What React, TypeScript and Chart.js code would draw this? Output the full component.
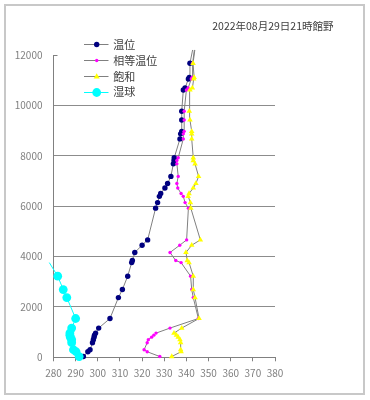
import React, { useEffect, useRef } from "react";
import { Chart, registerables } from "chart.js";

Chart.register(...registerables);

// heights (m) shared by all soundings
const heights = [
  30, 220, 300, 580, 700, 800, 880, 960, 1160, 1540,
  2370, 2690, 3220, 3760, 3840, 4160, 4450, 4660,
  5920, 6140, 6390, 6500, 6720, 6900,
  7180, 7680, 7810, 7920,
  8670, 8870, 8970, 9420, 9770,
  10610, 10690, 11050, 11110, 11670,
  12200,
];

// 温位 (K)
const potentialTemp = [
  293.5, 295.5, 296.5, 297.6, 298.0, 298.3, 298.5, 299.0, 300.4, 305.5,
  309.3, 311.1, 313.5, 315.3, 315.6, 316.7, 320.0, 322.5,
  326.1, 327.0, 327.8, 328.4, 330.3, 331.5,
  333.0, 334.1, 334.4, 334.5,
  337.1, 337.4, 337.9, 337.9, 337.9,
  338.6, 339.4, 340.9, 341.3, 341.6,
  342.8,
];

// 相等温位 (K)
const equivPotentialTemp = [
  328.0, 322.3, 320.9, 322.3, 322.8, 324.3, 325.3, 326.3, 332.6, 345.4,
  343.1, 342.4, 341.9, 337.6, 335.2, 332.6, 337.0, 340.1,
  340.9, 339.4, 338.6, 337.6, 336.1, 335.7,
  336.3, 335.7, 335.7, 336.3,
  338.6, 338.6, 339.0, 339.0, 339.0,
  340.0, 340.8, 342.2, 342.6, 342.8,
  343.6,
];

// 飽和 (K)
const saturatedTemp = [
  333.4, 337.6, 337.4, 337.4, 337.1, 336.3, 335.5, 334.4, 337.9, 345.7,
  343.9, 343.1, 343.1, 341.2, 340.4, 339.8, 342.4, 346.3,
  342.0, 341.8, 340.8, 341.2, 343.1, 344.3,
  345.5, 343.9, 343.1, 343.1,
  342.4, 342.4, 342.4, 341.6, 341.3,
  341.6, 342.7, 343.3, 343.5, 343.0,
  343.8,
];

// 湿球 (K) — lowest levels only
const wetBulb = [
  291.6, 290.2, 289.0, 288.2, 288.2, 287.6, 287.4, 287.4, 288.2, 290.0,
  286.0, 284.4, 281.9, 278.1,
];

const seriesNames = ["温位", "相等温位", "飽和", "湿球"];
const titleText = "2022年08月29日21時館野";
const xTicksMin = 280;
const xTicksMax = 380;
const yTicksMax = 12000;

const FONT = "'Noto Sans CJK JP', 'Noto Sans', sans-serif";

const toPoints = (xs: number[]) => xs.map((x, i) => ({ x, y: heights[i] }));

const inRange = (ctx: any) => {
  const r = ctx.raw;
  return r && r.y <= yTicksMax && r.x >= xTicksMin;
};

const styles = [
  { color: "#000080", line: "#808080", shape: "circle", r: 2.7 },
  { color: "#ff00ff", line: "#808080", shape: "circle", r: 1.7 },
  { color: "#ffff00", line: "#808080", shape: "triangle", r: 3.2 },
  { color: "#00ffff", line: "#00ffff", shape: "circle", r: 4.4 },
];

function drawMarker(c: CanvasRenderingContext2D, shape: string, x: number, y: number, r: number, color: string) {
  c.fillStyle = color;
  c.beginPath();
  if (shape === "triangle") {
    c.moveTo(x, y - r);
    c.lineTo(x + r * 0.95, y + r * 0.6);
    c.lineTo(x - r * 0.95, y + r * 0.6);
    c.closePath();
  } else {
    c.arc(x, y, r, 0, Math.PI * 2);
  }
  c.fill();
}

const decorPlugin = {
  id: "decor",
  afterDraw(chart: any) {
    const c: CanvasRenderingContext2D = chart.ctx;
    const area = chart.chartArea;
    c.save();
    // inward tick at the top of the y axis
    c.strokeStyle = "#808080";
    c.lineWidth = 1;
    c.beginPath();
    c.moveTo(area.left, Math.round(area.top) + 0.5);
    c.lineTo(area.left + 4, Math.round(area.top) + 0.5);
    c.stroke();

    // title
    c.fillStyle = "#404040";
    c.font = `10.5px ${FONT}`;
    c.textAlign = "right";
    c.textBaseline = "middle";
    c.fillText(titleText, 333.5, 26.5);

    // legend
    const x0 = 84;
    const x1 = 108.5;
    const xm = 96.7;
    const y0 = 44.3;
    const dy = 15.8;
    c.font = `11px ${FONT}`;
    c.textAlign = "left";
    seriesNames.forEach((name, i) => {
      const y = y0 + i * dy;
      const s = styles[i];
      c.strokeStyle = s.line;
      c.lineWidth = 1;
      c.beginPath();
      c.moveTo(x0, Math.round(y) + 0.5);
      c.lineTo(x1, Math.round(y) + 0.5);
      c.stroke();
      drawMarker(c, s.shape, xm, Math.round(y) + 0.5, s.r, s.color);
      c.fillStyle = "#404040";
      c.fillText(name, 113.3, y + 0.5);
    });
    c.restore();
  },
};

export default function App() {
  const ref = useRef<HTMLCanvasElement | null>(null);

  useEffect(() => {
    if (!ref.current) return;
    const allSeries = [potentialTemp, equivPotentialTemp, saturatedTemp, wetBulb];
    const datasets = allSeries.map((xs, i) => {
      const s = styles[i];
      return {
        label: seriesNames[i],
        data: toPoints(xs),
        showLine: true,
        borderColor: s.line,
        borderWidth: 1,
        backgroundColor: s.color,
        pointBackgroundColor: s.color,
        pointBorderColor: s.color,
        pointBorderWidth: 0,
        pointStyle: s.shape,
        pointRadius: (ctx: any) => (inRange(ctx) ? s.r : 0),
        pointHoverRadius: (ctx: any) => (inRange(ctx) ? s.r : 0),
        clip: false as any,
        order: 4 - i,
      };
    });

    const chart = new Chart(ref.current, {
      type: "scatter",
      data: { datasets },
      options: {
        animation: false,
        responsive: false,
        events: [],
        layout: { padding: { left: 0, right: 95, top: 55, bottom: 12.7 } },
        plugins: {
          legend: { display: false },
          title: { display: false },
          tooltip: { enabled: false },
        },
        scales: {
          x: {
            type: "linear",
            min: xTicksMin,
            max: xTicksMax,
            ticks: {
              stepSize: 10,
              color: "#808080",
              font: { size: 10, family: FONT },
              padding: 6,
              maxRotation: 0,
              minRotation: 0,
              autoSkip: false,
              callback: (v: any) => String(v),
            },
            grid: {
              drawOnChartArea: false,
              drawTicks: true,
              tickLength: 4,
              color: "#808080",
            },
            border: { display: true, color: "#808080" },
            afterFit: (s: any) => {
              s.height = 30;
            },
          },
          y: {
            type: "linear",
            min: 0,
            max: yTicksMax,
            ticks: {
              stepSize: 2000,
              color: "#808080",
              font: { size: 10, family: FONT },
              padding: 11,
              callback: (v: any) => String(v),
            },
            grid: {
              drawTicks: false,
              color: (ctx: any) =>
                ctx.tick && ctx.tick.value === yTicksMax ? "rgba(0,0,0,0)" : "#8c8c8c",
            },
            border: { display: true, color: "#808080" },
            afterFit: (s: any) => {
              s.width = 53.5;
            },
          },
        },
      },
      plugins: [decorPlugin],
    });
    return () => chart.destroy();
  }, []);

  return (
    <div style={{ position: "absolute", left: 0, top: 0, width: 370, height: 400, background: "#fff" }}>
      <canvas ref={ref} width={370} height={400} style={{ position: "absolute", left: 0, top: 0 }} />
      <div
        style={{
          position: "absolute",
          left: 4,
          top: 4,
          width: 361,
          height: 391,
          boxSizing: "border-box",
          border: "2px solid #c8c8c8",
          pointerEvents: "none",
        }}
      />
    </div>
  );
}
